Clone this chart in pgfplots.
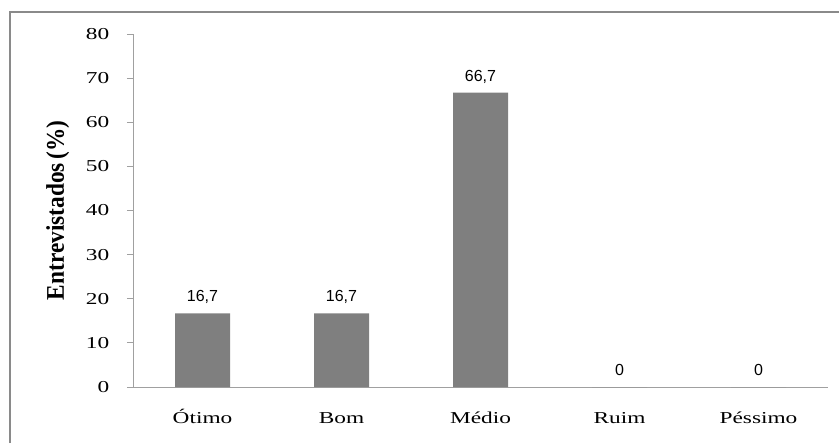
\documentclass[border=0pt]{standalone}
\usepackage{fontspec}
\setmainfont{Liberation Serif}
\newfontfamily\valfont{Liberation Sans}
\usepackage{pgfplots}
\pgfplotsset{compat=1.18}
\definecolor{barfill}{HTML}{7F7F7F}
\definecolor{axisgray}{HTML}{A0A0A0}
\definecolor{framegray}{HTML}{8A8A8A}
\begin{document}
\begin{tikzpicture}[x=0.75pt,y=0.75pt]
\def\u{0.75pt}
\useasboundingbox (0,0) rectangle (839,443);
% chart frame (left and top edges)
\draw[framegray, line width=1.5pt] (10,0) -- (10,431) -- (839,431);
\begin{axis}[
  at={(133*\u,56*\u)}, anchor=south west,
  scale only axis, width=695*\u, height=353*\u,
  axis lines*=left,
  axis line style={axisgray, line width=0.75pt},
  xmin=-0.5, xmax=4.5, ymin=0, ymax=80,
  enlargelimits=false,
  ytick={0,10,...,80},
  xtick={0,1,2,3,4},
  xticklabels={Ótimo,Bom,Médio,Ruim,Péssimo},
  x tick style={draw=none},
  extra x ticks={-0.5,0.5,1.5,2.5,3.5,4.5},
  extra x tick labels={},
  extra x tick style={tick style={axisgray, line width=0.75pt}, major tick length=5*\u},
  tick align=outside,
  y tick style={axisgray, line width=0.75pt},
  major tick length=6*\u,
  /pgf/number format/assume math mode=true,
  ticklabel style={font=\fontsize{12.5}{14}\selectfont, xscale=1.4},
  xticklabel style={anchor=base, yshift=-30*\u},
  yticklabel style={anchor=east, xshift=-8*\u},
  every axis y label/.style={at={(axis description cs:-0.0993,0.501)}, rotate=90, yscale=1.09, anchor=base},
  ylabel={\fontsize{17.5}{20}\selectfont\bfseries Entrevistados\,(\%)},
  ybar, bar width=55*\u,
  nodes near coords={\pgfmathprintnumber[fixed,precision=1,use comma]{\pgfplotspointmeta}},
  every node near coord/.append style={font=\valfont\fontsize{12}{14}\selectfont, anchor=base, yshift=11.5*\u},
  clip=false,
]
\addplot[fill=barfill, draw=none] coordinates {(0,16.7) (1,16.7) (2,66.7) (3,0) (4,0)};
\end{axis}
\end{tikzpicture}
\end{document}
